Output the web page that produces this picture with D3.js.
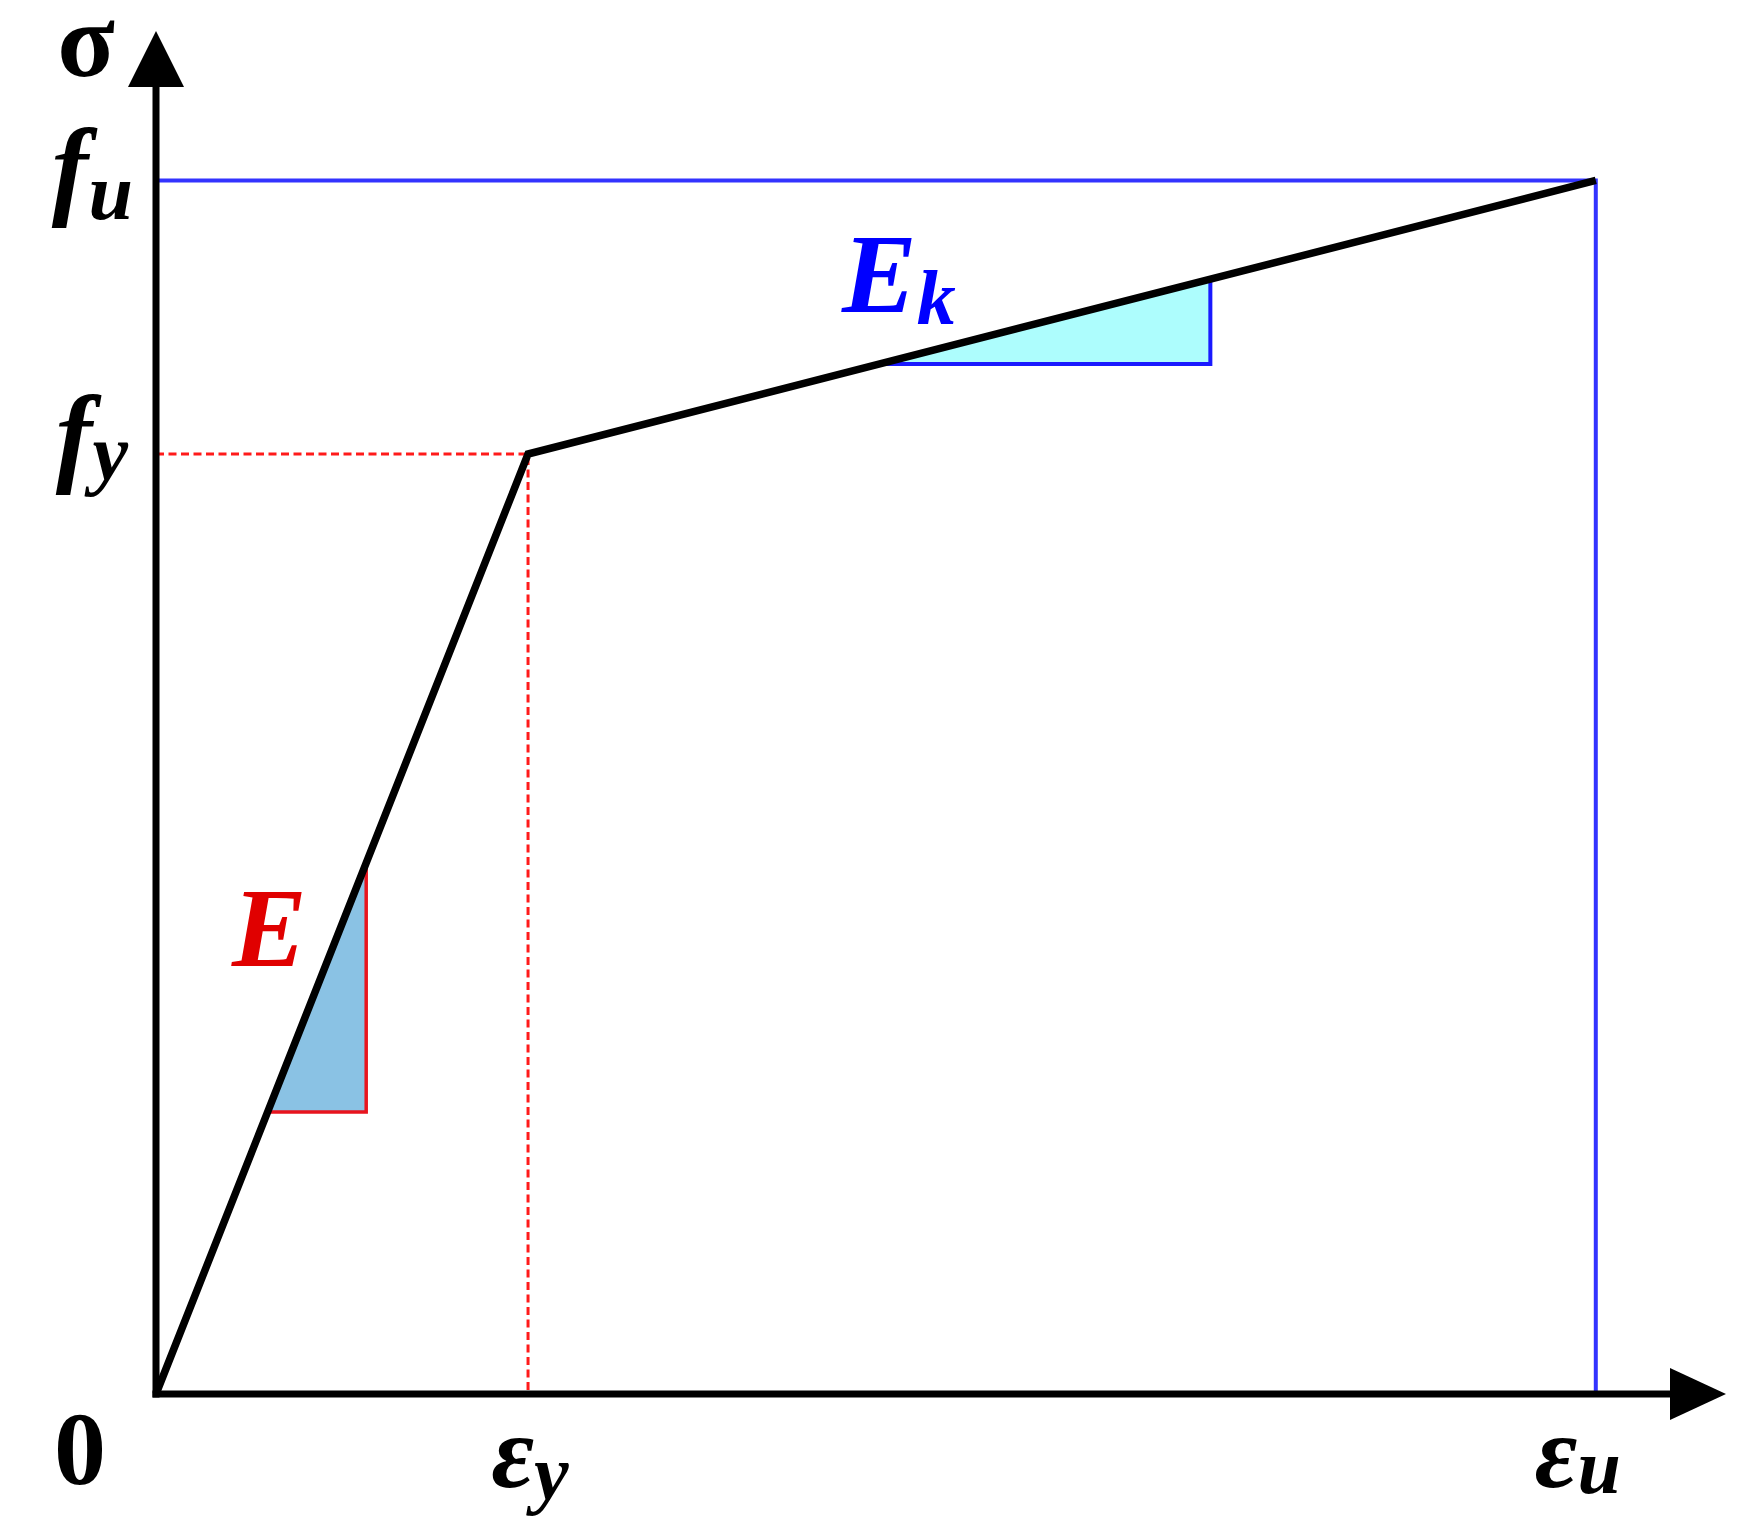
<!DOCTYPE html>
<html><head><meta charset="utf-8">
<script src="https://cdn.jsdelivr.net/npm/d3@7"></script>
<style>html,body{margin:0;padding:0;background:#fff;}svg{display:block;}</style>
</head><body>
<svg id="chart" width="1746" height="1536"></svg>
<script>
// ---- data (normalised units: εy = 1, fy = 1) ----
const strainPts = [0, 1.0, 3.87];      // 0, εy, εu
const stressPts = [0, 1.0, 1.291];     // 0, fy, fu
const strainMax = 4.22;                // x-axis arrow tip
const stressMax = 1.45;                // y-axis arrow tip
const strainTickLabels = [["ε","y"], ["ε","u"]];
const stressTickLabels = [["f","y"], ["f","u"]];
const eTriStrain = [0.30, 0.565];      // elastic slope triangle span
const ekTriStrain = [1.945, 2.834];    // hardening slope triangle span

const svg = d3.select("#chart");
const x = d3.scaleLinear().domain([0, strainMax]).range([156, 1726]);
const y = d3.scaleLinear().domain([0, stressMax]).range([1394, 31]);
const curve = d3.scaleLinear().domain(strainPts).range(stressPts);
const serif = "'Liberation Serif','Times New Roman',serif";

// triangles
const eA = [eTriStrain[0], curve(eTriStrain[0])], eB = [eTriStrain[1], curve(eTriStrain[1])];
svg.append("path")
  .attr("d", d3.line()([[x(eA[0]), y(eA[1])], [x(eB[0]), y(eB[1])], [x(eB[0]), y(eA[1])]]) + "Z")
  .attr("fill", "#8ac2e4").attr("stroke", "#e8141e").attr("stroke-width", 3.5);
const kA = [ekTriStrain[0], curve(ekTriStrain[0])], kB = [ekTriStrain[1], curve(ekTriStrain[1])];
svg.append("path")
  .attr("d", d3.line()([[x(kA[0]), y(kA[1])], [x(kB[0]), y(kB[1])], [x(kB[0]), y(kA[1])]]) + "Z")
  .attr("fill", "#adfdfd").attr("stroke", "#1a1aff").attr("stroke-width", 4);

// reference lines
const ey = strainPts[1], eu = strainPts[2], fy = stressPts[1], fu = stressPts[2];
svg.append("path").attr("d", d3.line()([[x(0), y(fu)], [x(eu), y(fu)], [x(eu), y(0)]]))
  .attr("fill", "none").attr("stroke", "#3333ff").attr("stroke-width", 4);
svg.append("path").attr("d", d3.line()([[x(0), y(fy)], [x(ey), y(fy)], [x(ey), y(0)]]))
  .attr("fill", "none").attr("stroke", "#ff1a1a").attr("stroke-width", 3).attr("stroke-dasharray", "8,4.5");

// axes
const xAxis = d3.axisBottom(x).tickValues([]).tickSize(0).tickSizeOuter(0);
const yAxis = d3.axisLeft(y).tickValues([]).tickSize(0).tickSizeOuter(0);
svg.append("g").attr("transform", `translate(0,${y(0)})`).call(xAxis)
  .select(".domain").attr("stroke", "#000").attr("stroke-width", 7)
  .attr("d", `M${x(0)-3.5},0H${x(strainMax)-50}`);
svg.append("g").attr("transform", `translate(${x(0)},0)`).call(yAxis)
  .select(".domain").attr("stroke", "#000").attr("stroke-width", 7)
  .attr("d", `M0,${y(0)+3.5}V${y(stressMax)+50}`);
// arrowheads
svg.append("path").attr("d", `M${x(strainMax)},${y(0)}L${x(strainMax)-56},${y(0)-26}L${x(strainMax)-56},${y(0)+26}Z`).attr("fill", "#000");
svg.append("path").attr("d", `M${x(0)},${y(stressMax)}L${x(0)-28},${y(stressMax)+56}L${x(0)+28},${y(stressMax)+56}Z`).attr("fill", "#000");

// stress-strain curve
svg.append("path")
  .datum(strainPts.map((s, i) => [s, stressPts[i]]))
  .attr("d", d3.line().x(d => x(d[0])).y(d => y(d[1])))
  .attr("fill", "none").attr("stroke", "#000").attr("stroke-width", 7.5).attr("stroke-linejoin", "miter");

// labels
function sublabel(px, py, anchor, parts, size, subSize, dy, color) {
  const t = svg.append("text").attr("x", px).attr("y", py).attr("text-anchor", anchor)
    .attr("font-family", serif).attr("font-weight", "bold").attr("font-style", "italic").attr("fill", color);
  t.append("tspan").attr("font-size", size).text(parts[0]);
  t.append("tspan").attr("font-size", subSize).attr("dy", dy).text(parts[1]);
  return t;
}
// x tick labels
sublabel(x(ey) + 2, 1487, "middle", strainTickLabels[0], 104, 78, 12, "#000");
sublabel(x(eu) - 18, 1487, "middle", strainTickLabels[1], 104, 78, 6, "#000");
// y tick labels
sublabel(128, y(fy) + 18, "end", stressTickLabels[0], 110, 80, 8, "#000");
sublabel(133, y(fu) + 25, "end", stressTickLabels[1], 110, 80, 14, "#000");
// origin
svg.append("text").attr("x", 80).attr("y", 1484).attr("text-anchor", "middle")
  .attr("font-family", serif).attr("font-weight", "bold").attr("font-size", 104).text("0");
// sigma
svg.append("text").attr("x", 86).attr("y", 76).attr("text-anchor", "middle")
  .attr("font-family", serif).attr("font-weight", "bold").attr("font-size", 106).text("σ");
// E, Ek
svg.append("text").attr("x", 232).attr("y", 966)
  .attr("font-family", serif).attr("font-weight", "bold").attr("font-style", "italic")
  .attr("font-size", 112).attr("fill", "#e00000").text("E");
sublabel(842, 312, "start", ["E", "k"], 112, 78, 12, "#0000ff");
</script>
</body></html>
